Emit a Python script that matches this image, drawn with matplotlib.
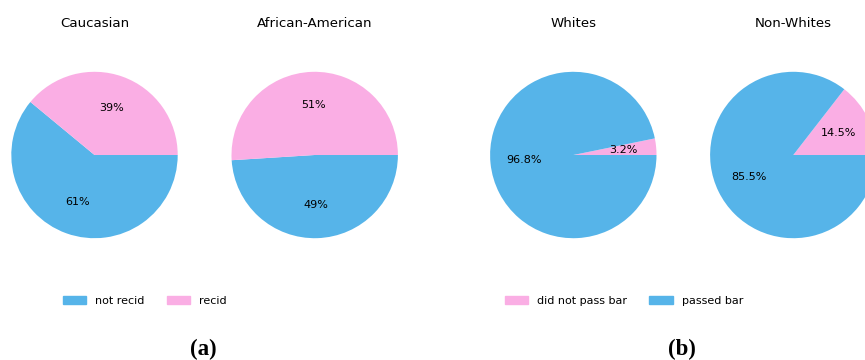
import matplotlib.pyplot as plt
from matplotlib.patches import Patch

blue = '#56B4E9'
pink = '#FAAEE4'

# (a) recidivism by race
recid_groups = ['Caucasian', 'African-American']
not_recid = [61, 49]
recid = [39, 51]

# (b) bar passage by race
bar_groups = ['Whites', 'Non-Whites']
not_passed = [3.2, 14.5]
passed = [96.8, 85.5]

W, H = 865, 360
fig = plt.figure(figsize=(W / 100, H / 100), dpi=100)

# pie centres (px) and radius
centres = [(94.5, 155), (314.7, 155), (573.3, 155), (793.3, 155)]
r = 83.2


def pie_axes(cx, cy):
    return fig.add_axes([(cx - r) / W, (H - cy - r) / H, 2 * r / W, 2 * r / H])


for i, name in enumerate(recid_groups):
    ax = pie_axes(*centres[i])
    ax.pie([not_recid[i], recid[i]], colors=[blue, pink], autopct='%1.0f%%',
           counterclock=False, startangle=0, textprops={'fontsize': 8})
    ax.set_xlim(-1, 1)
    ax.set_ylim(-1, 1)
    ax.set_title(name, fontsize=9.6, pad=32)

for i, name in enumerate(bar_groups):
    ax = pie_axes(*centres[i + 2])
    ax.pie([not_passed[i], passed[i]], colors=[pink, blue], autopct='%1.1f%%',
           startangle=0, textprops={'fontsize': 8})
    ax.set_xlim(-1, 1)
    ax.set_ylim(-1, 1)
    ax.set_title(name, fontsize=9.6, pad=32)

leg_kw = dict(loc='center', ncol=2, frameon=False, fontsize=8,
              handlelength=2.1, handleheight=0.8, columnspacing=2.0)
fig.legend(handles=[Patch(color=blue, label='not recid'),
                    Patch(color=pink, label='recid')],
           bbox_to_anchor=(145 / W, 1 - 301 / H), **leg_kw)
fig.legend(handles=[Patch(color=pink, label='did not pass bar'),
                    Patch(color=blue, label='passed bar')],
           bbox_to_anchor=(624 / W, 1 - 301 / H), **leg_kw)

cap_kw = dict(ha='center', va='center', fontsize=16.5, fontweight='bold',
              family='Liberation Serif')
fig.text(203.7 / W, 1 - 349 / H, '(a)', **cap_kw)
fig.text(682.3 / W, 1 - 349 / H, '(b)', **cap_kw)

fig.savefig('out.png', dpi=100)
